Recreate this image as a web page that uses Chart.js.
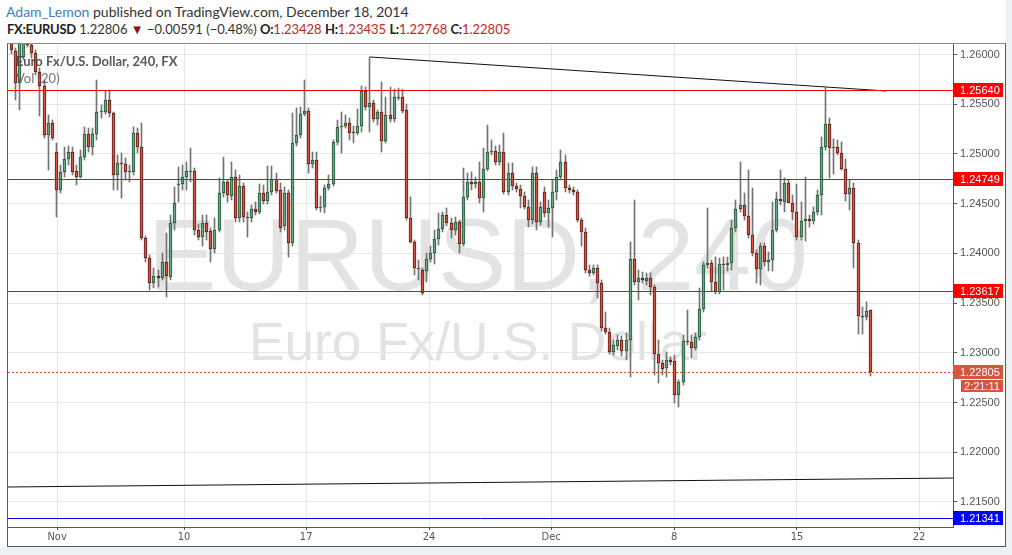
<!DOCTYPE html>
<html>
<head>
<meta charset="utf-8">
<script src="https://cdn.jsdelivr.net/npm/chart.js@4.4.1/dist/chart.umd.min.js"></script>
<style>
  body { margin: 0; background: #eef1f4; }
  #page { position: absolute; left: 0; top: 0; width: 1006px; height: 547px; background: #fff; }
  .hdr { position: absolute; left: 6px; font: 13px Lato, 'Open Sans', sans-serif; line-height: 16px; color: #333; white-space: nowrap; }
  .hdr b { color: #222; letter-spacing: -0.3px; }
  .hdr .v { color: #c0281e; }
  #frame { position: absolute; left: 7px; top: 43px; width: 997px; height: 502px; border: 1px solid #5a5a5a; border-top-color: #8a8a8a; }
  canvas { display: block; }
</style>
</head>
<body>
<div id="page">
  <div class="hdr" style="top:4px;font-size:14px"><span style="color:#3a80c3">Adam_Lemon</span> published on TradingView.com, December 18, 2014</div>
  <div class="hdr" id="quote" style="top:21px;left:7px"></div>
  <div id="frame"><canvas id="chart" width="997" height="502"></canvas></div>
</div>
<script>
// EURUSD 240 — one candle every 4 hours, oldest first
const opens = [
  1.2613,1.2604,1.2571,1.2598,1.2612,1.2610,1.2602,1.2582,1.2568,1.2519,1.2531,1.2502,1.2464,1.2482,1.2495,1.2502,1.2483,1.2477,1.2497,1.2520,
  1.2507,1.2520,1.2542,1.2542,1.2554,1.2541,1.2479,1.2491,1.2490,1.2482,1.2482,1.2521,1.2507,1.2415,1.2395,1.2370,1.2377,1.2375,1.2391,1.2376,
  1.2431,1.2469,1.2470,1.2477,1.2482,1.2483,1.2424,1.2417,1.2431,1.2423,1.2404,1.2424,1.2461,1.2472,1.2458,1.2477,1.2436,1.2468,1.2437,1.2436,
  1.2445,1.2442,1.2461,1.2453,1.2462,1.2475,1.2464,1.2428,1.2461,1.2410,1.2511,1.2519,1.2540,1.2543,1.2490,1.2494,1.2446,1.2447,1.2466,1.2470,
  1.2512,1.2527,1.2528,1.2531,1.2522,1.2521,1.2528,1.2563,1.2547,1.2551,1.2535,1.2542,1.2513,1.2539,1.2535,1.2556,1.2557,1.2544,1.2436,1.2411,
  1.2385,1.2383,1.2382,1.2394,1.2400,1.2414,1.2425,1.2439,1.2431,1.2424,1.2432,1.2409,1.2457,1.2472,1.2470,1.2472,1.2456,1.2485,1.2502,1.2503,
  1.2492,1.2502,1.2462,1.2481,1.2468,1.2465,1.2458,1.2447,1.2434,1.2481,1.2432,1.2462,1.2441,1.2446,1.2462,1.2477,1.2492,1.2466,1.2464,1.2462,
  1.2434,1.2422,1.2383,1.2380,1.2385,1.2370,1.2325,1.2321,1.2301,1.2307,1.2313,1.2302,1.2313,1.2394,1.2371,1.2375,1.2372,1.2375,1.2366,1.2299,
  1.2290,1.2285,1.2293,1.2292,1.2258,1.2271,1.2312,1.2311,1.2305,1.2316,1.2344,1.2388,1.2390,1.2371,1.2361,1.2389,1.2388,1.2390,1.2426,1.2445,
  1.2449,1.2438,1.2419,1.2400,1.2384,1.2407,1.2391,1.2393,1.2424,1.2455,1.2452,1.2471,1.2451,1.2442,1.2417,1.2433,1.2435,1.2433,1.2442,1.2459,
  1.2507,1.2530,1.2506,1.2507,1.2501,1.2485,1.2460,1.2466,1.2410,1.2337,1.2336,1.23428
];
const highs = [
  1.2617,1.2607,1.2615,1.2617,1.2615,1.2612,1.2605,1.2587,1.2574,1.2539,1.2534,1.2511,1.2489,1.2507,1.2508,1.2507,1.2489,1.2504,1.2527,1.2526,
  1.2526,1.2574,1.2549,1.2563,1.2564,1.2542,1.2499,1.2501,1.2496,1.2489,1.2527,1.2526,1.2531,1.2418,1.2398,1.2385,1.2383,1.2400,1.2421,1.2439,
  1.2467,1.2487,1.2489,1.2492,1.2506,1.2486,1.2430,1.2439,1.2439,1.2426,1.2436,1.2476,1.2497,1.2474,1.2492,1.2484,1.2479,1.2471,1.2442,1.2449,
  1.2452,1.2470,1.2469,1.2488,1.2488,1.2481,1.2471,1.2467,1.2464,1.2541,1.2546,1.2547,1.2574,1.2546,1.2502,1.2502,1.2458,1.2469,1.2479,1.2514,
  1.2534,1.2542,1.2539,1.2536,1.2528,1.2545,1.2568,1.2567,1.2598,1.2554,1.2544,1.2572,1.2557,1.2567,1.2565,1.2566,1.2565,1.2550,1.2457,1.2413,
  1.2393,1.2385,1.2400,1.2407,1.2424,1.2441,1.2442,1.2446,1.2436,1.2437,1.2434,1.2486,1.2481,1.2482,1.2477,1.2492,1.2506,1.2529,1.2514,1.2508,
  1.2509,1.2521,1.2491,1.2491,1.2471,1.2469,1.2462,1.2454,1.2487,1.2487,1.2452,1.2467,1.2454,1.2474,1.2484,1.2504,1.2499,1.2469,1.2467,1.2464,
  1.2436,1.2426,1.2388,1.2388,1.2388,1.2373,1.2341,1.2325,1.2313,1.2318,1.2317,1.2320,1.2411,1.2454,1.2383,1.2381,1.2380,1.2380,1.2368,1.2313,
  1.2293,1.2301,1.2296,1.2298,1.2273,1.2318,1.2343,1.2318,1.2320,1.2365,1.2391,1.2446,1.2393,1.2396,1.2395,1.2396,1.2396,1.2434,1.2454,1.2492,
  1.2461,1.2484,1.2466,1.2403,1.2410,1.2410,1.2401,1.2452,1.2462,1.2484,1.2476,1.2474,1.2459,1.2470,1.2452,1.2477,1.2439,1.2447,1.2464,1.2517,
  1.2566,1.2536,1.2515,1.2514,1.2512,1.2495,1.2474,1.2471,1.2413,1.2346,1.2351,1.23435
];
const lows = [
  1.2601,1.2554,1.2544,1.2595,1.2608,1.2597,1.2579,1.2538,1.2516,1.2484,1.2514,1.2437,1.2461,1.2477,1.2489,1.2479,1.2469,1.2476,1.2494,1.2502,
  1.2499,1.2514,1.2536,1.2540,1.2537,1.2464,1.2464,1.2456,1.2474,1.2472,1.2479,1.2501,1.2413,1.2391,1.2363,1.2365,1.2366,1.2373,1.2356,1.2373,
  1.2424,1.2452,1.2464,1.2464,1.2472,1.2419,1.2413,1.2407,1.2413,1.2391,1.2400,1.2422,1.2457,1.2452,1.2454,1.2432,1.2432,1.2432,1.2417,1.2432,
  1.2439,1.2440,1.2450,1.2450,1.2459,1.2461,1.2422,1.2424,1.2396,1.2407,1.2508,1.2516,1.2538,1.2481,1.2486,1.2444,1.2442,1.2441,1.2464,1.2468,
  1.2509,1.2501,1.2526,1.2514,1.2511,1.2519,1.2522,1.2544,1.2522,1.2532,1.2529,1.2502,1.2511,1.2532,1.2532,1.2554,1.2541,1.2434,1.2410,1.2378,
  1.2373,1.2358,1.2371,1.2391,1.2389,1.2408,1.2422,1.2428,1.2415,1.2419,1.2400,1.2407,1.2454,1.2464,1.2466,1.2451,1.2442,1.2483,1.2499,1.2489,
  1.2489,1.2460,1.2459,1.2464,1.2462,1.2446,1.2445,1.2427,1.2430,1.2424,1.2429,1.2437,1.2427,1.2417,1.2454,1.2474,1.2462,1.2461,1.2459,1.2432,
  1.2407,1.2380,1.2377,1.2378,1.2355,1.2322,1.2319,1.2299,1.2298,1.2303,1.2297,1.2293,1.2276,1.2368,1.2353,1.2370,1.2368,1.2358,1.2278,1.2270,
  1.2278,1.2276,1.2288,1.2250,1.2245,1.2268,1.2308,1.2295,1.2303,1.2313,1.2341,1.2385,1.2362,1.2359,1.2359,1.2363,1.2382,1.2383,1.2422,1.2442,
  1.2434,1.2415,1.2397,1.2370,1.2368,1.2387,1.2382,1.2382,1.2422,1.2449,1.2442,1.2452,1.2434,1.2413,1.2413,1.2412,1.2427,1.2430,1.2439,1.2439,
  1.2504,1.2476,1.2480,1.2499,1.2484,1.2453,1.2444,1.2385,1.2319,1.2319,1.2333,1.22768
];
const closes = [
  1.2605,1.2571,1.2612,1.2612,1.2610,1.2602,1.2582,1.2568,1.2519,1.2531,1.2516,1.2464,1.2482,1.2495,1.2502,1.2482,1.2477,1.2497,1.2520,1.2507,
  1.2520,1.2542,1.2543,1.2554,1.2541,1.2479,1.2491,1.2490,1.2482,1.2483,1.2521,1.2507,1.2415,1.2395,1.2370,1.2377,1.2375,1.2391,1.2377,1.2431,
  1.2451,1.2470,1.2477,1.2483,1.2483,1.2424,1.2417,1.2431,1.2422,1.2404,1.2424,1.2461,1.2472,1.2459,1.2477,1.2436,1.2468,1.2437,1.2436,1.2445,
  1.2442,1.2461,1.2453,1.2462,1.2475,1.2463,1.2426,1.2461,1.2410,1.2511,1.2519,1.2540,1.2543,1.2490,1.2494,1.2446,1.2447,1.2466,1.2470,1.2512,
  1.2527,1.2528,1.2531,1.2521,1.2521,1.2528,1.2563,1.2547,1.2551,1.2535,1.2542,1.2513,1.2539,1.2535,1.2557,1.2557,1.2543,1.2436,1.2411,1.2385,
  1.2384,1.2360,1.2394,1.2400,1.2414,1.2425,1.2439,1.2431,1.2424,1.2432,1.2409,1.2457,1.2472,1.2470,1.2472,1.2456,1.2485,1.2502,1.2503,1.2492,
  1.2502,1.2462,1.2481,1.2468,1.2465,1.2458,1.2447,1.2434,1.2481,1.2432,1.2447,1.2441,1.2446,1.2462,1.2477,1.2492,1.2466,1.2464,1.2462,1.2434,
  1.2422,1.2383,1.2380,1.2385,1.2370,1.2325,1.2321,1.2301,1.2308,1.2313,1.2302,1.2313,1.2394,1.2371,1.2375,1.2373,1.2375,1.2366,1.2299,1.2290,
  1.2284,1.2293,1.2291,1.2258,1.2271,1.2312,1.2311,1.2305,1.2316,1.2344,1.2388,1.2390,1.2371,1.2361,1.2389,1.2388,1.2390,1.2426,1.2445,1.2449,
  1.2438,1.2419,1.2400,1.2384,1.2407,1.2391,1.2393,1.2424,1.2455,1.2453,1.2471,1.2451,1.2442,1.2417,1.2433,1.2435,1.2433,1.2442,1.2459,1.2507,
  1.2530,1.2506,1.2507,1.2501,1.2485,1.2460,1.2466,1.2410,1.2337,1.2336,1.2342,1.22805
];

// axes
const yTicks = [1.215, 1.22, 1.225, 1.23, 1.235, 1.24, 1.245, 1.25, 1.255, 1.26];
const xTickPos = [11.2, 42.4, 72.4, 102.6, 132.6, 162.8, 193.0, 223.0];   // in candle index units
const xTickLabels = ['Nov', '10', '17', '24', 'Dec', '8', '15', '22'];

// drawings
const redLevels = [1.25640, 1.24749, 1.23617];
const blueLevel = 1.21341;
const lastPrice = 1.22805;
const countdown = '2:21:11';
const upperTrendX = [88.1, 214.9];
const upperTrendY = [1.25976, 1.25634];
const lowerTrendX = [-0.86, 231.33];
const lowerTrendY = [1.21650, 1.21740];

const X_MIN = -0.86, X_MAX = 231.33, Y_MIN = 1.212475, Y_MAX = 1.261066;

const UP = '#6ba583', UP_B = '#225437', DN = '#d75442', DN_B = '#5b1a13', WICK = '#737375';
const AXIS_FONT = "'Liberation Sans', Arial, sans-serif";

// quote line in the header
const n = closes.length - 1;
document.getElementById('quote').innerHTML =
  `<b>FX:EURUSD</b> 1.22806 <span style="color:#9b0d0d">&#9660;</span> &minus;0.00591 (&minus;0.48%) ` +
  `<b>O:</b><span class="v">${opens[n].toFixed(5)}</span> <b>H:</b><span class="v">${highs[n].toFixed(5)}</span> ` +
  `<b>L:</b><span class="v">${lows[n].toFixed(5)}</span> <b>C:</b><span class="v">${closes[n].toFixed(5)}</span>`;

const isUp = opens.map((o, i) => closes[i] >= o);

const hline = (y, color, dash) => ({
  type: 'line', flat: true, data: [{ x: X_MIN, y }, { x: X_MAX, y }],
  borderColor: color, borderWidth: 1, borderDash: dash || [], pointRadius: 0, order: 0
});
const segment = (xs, ys) => ({
  type: 'line', data: xs.map((x, i) => ({ x, y: ys[i] })),
  borderColor: '#111', borderWidth: 1, pointRadius: 0, order: 0
});

function fitText(ctx, text, width, x, y) {
  ctx.font = `100px ${AXIS_FONT}`;
  const size = 100 * width / ctx.measureText(text).width;
  ctx.font = `${size}px ${AXIS_FONT}`;
  ctx.fillText(text, x, y);
}

// no label padding: the plot should touch the frame on all sides
const noPad = s => { s.paddingTop = 0; s.paddingBottom = 0; s.paddingLeft = 0; s.paddingRight = 0; };

const tvOverlay = {
  id: 'tvOverlay',
  beforeDatasetsDraw(chart) {
    // snap candles and level lines to whole pixels so they stay crisp
    chart.data.datasets.forEach((ds, i) => {
      const els = chart.getDatasetMeta(i).data;
      if (ds.type === 'line') {
        if (ds.flat) els.forEach(p => { p.y = Math.round(p.y) + 0.5; });
        return;
      }
      els.forEach(el => {
        el.x = Math.floor(el.x) + 0.5;
        el.y = Math.round(el.y);
        el.base = Math.round(el.base);
        if (Math.abs(el.base - el.y) < 1) el.base = el.y + 1;
      });
    });
    // symbol watermark
    const { ctx, chartArea: a } = chart;
    ctx.save();
    ctx.fillStyle = '#e3e3e3';
    ctx.textAlign = 'center';
    ctx.textBaseline = 'alphabetic';
    const cx = (a.left + a.right) / 2 - 2.5;
    fitText(ctx, 'EURUSD, 240', 660, cx, a.top + 246);
    fitText(ctx, 'Euro Fx/U.S. Dollar', 458, cx, a.top + 316);
    ctx.restore();
  },
  afterDatasetsDraw(chart) {
    const { ctx, chartArea: a } = chart;
    ctx.save();
    ctx.textAlign = 'left';
    ctx.textBaseline = 'alphabetic';
    ctx.fillStyle = 'rgba(70,70,70,0.9)';
    ctx.font = "bold 13px Lato, 'Open Sans', sans-serif";
    ctx.fillText('Euro Fx/U.S. Dollar, 240, FX', a.left + 8, a.top + 22);
    ctx.fillStyle = 'rgba(90,90,90,0.85)';
    ctx.font = "13px Lato, 'Open Sans', sans-serif";
    ctx.fillText('Vol (20)', a.left + 8, a.top + 39);
    ctx.restore();
  },
  afterDraw(chart) {
    const { ctx, chartArea: a } = chart;
    const ys = chart.scales.y;
    const r = a.right;
    ctx.save();
    ctx.font = `11px ${AXIS_FONT}`;
    ctx.textBaseline = 'middle';
    const box = (val, bg) => {
      const py = Math.round(ys.getPixelForValue(val));
      ctx.fillStyle = bg;
      ctx.fillRect(r, py - 7, 50, 14);
      ctx.fillStyle = '#fff';
      ctx.textAlign = 'left';
      ctx.fillText(val.toFixed(5), r + 7, py + 0.5);
      return py;
    };
    redLevels.forEach(v => box(v, '#ff0000'));
    box(blueLevel, '#0000ff');
    const py = box(lastPrice, '#d6553f');
    ctx.fillStyle = '#d6553f';
    ctx.fillRect(r + 8, py + 8, 42, 12);
    ctx.fillStyle = '#fff';
    ctx.textAlign = 'center';
    ctx.fillText(countdown, r + 29, py + 14.5);
    ctx.restore();
  }
};

new Chart(document.getElementById('chart'), {
  type: 'bar',
  data: {
    datasets: [
      {
        label: 'wick', order: 2, grouped: false, barThickness: 1,
        data: lows.map((l, i) => ({ x: i, y: [l, highs[i]] })),
        backgroundColor: WICK
      },
      {
        label: 'body', order: 1, grouped: false, barThickness: 3, minBarLength: 1,
        data: opens.map((o, i) => ({ x: i, y: [o, closes[i]] })),
        backgroundColor: isUp.map(u => u ? UP : DN),
        borderColor: isUp.map(u => u ? UP_B : DN_B),
        borderWidth: 1, borderSkipped: false
      },
      ...redLevels.map(v => hline(v, '#ff0000')),
      hline(blueLevel, '#0000ff'),
      hline(lastPrice, '#e8452c', [2, 2]),
      segment(upperTrendX, upperTrendY),
      segment(lowerTrendX, lowerTrendY)
    ]
  },
  options: {
    responsive: false, animation: false, devicePixelRatio: 1,
    layout: { padding: 0, autoPadding: false },
    plugins: { legend: { display: false }, tooltip: { enabled: false } },
    scales: {
      x: {
        type: 'linear', min: X_MIN, max: X_MAX, offset: false,
        grid: { color: '#e6e6e6', offset: false, tickLength: 3, tickColor: '#555' },
        border: { color: '#555' },
        ticks: {
          autoSkip: false, maxRotation: 0, padding: 1, color: '#555',
          font: { family: "'Liberation Sans Narrow', 'DejaVu Sans Condensed', Arial, sans-serif", size: 11 },
          callback: (v, i) => xTickLabels[i]
        },
        afterBuildTicks: s => { s.ticks = xTickPos.map(value => ({ value })); },
        afterFit: s => { s.height = 19; noPad(s); }
      },
      y: {
        position: 'right', min: Y_MIN, max: Y_MAX, beginAtZero: false,
        grid: { color: '#e6e6e6', tickLength: 4, tickColor: '#555' },
        border: { color: '#555' },
        ticks: {
          padding: 3, color: '#555', font: { family: AXIS_FONT, size: 11 },
          callback: v => v.toFixed(5)
        },
        afterBuildTicks: s => { s.ticks = yTicks.map(value => ({ value })); },
        afterFit: s => { s.width = 52; noPad(s); }
      }
    }
  },
  plugins: [tvOverlay]
});
</script>
</body>
</html>
